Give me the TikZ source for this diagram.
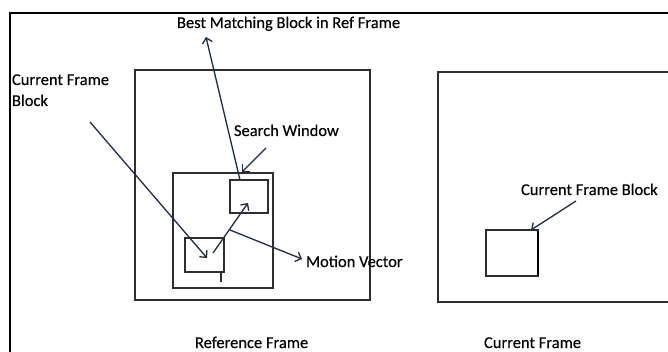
\documentclass[tikz,border=0pt]{standalone}
\usepackage{fontspec}
\setmainfont{Carlito}[UprightFeatures={FakeBold=0.3}]
\usetikzlibrary{arrows.meta}
\definecolor{arrowblue}{HTML}{1F2B45}
\definecolor{edgegray}{HTML}{2E2E2E}
\tikzset{
  x=1pt, y=-1pt,
  every node/.style={inner sep=0pt, outer sep=0pt},
  frame/.style={draw=edgegray, line width=1.3pt},
  label/.style={anchor=base west, font=\fontsize{16.5}{19}\selectfont, text=black},
  ptr/.style={draw=arrowblue, line width=1.3pt, -{Straight Barb[length=5pt,width=10pt]}},
}
\begin{document}
\begin{tikzpicture}
  \useasboundingbox (0,0) rectangle (668,352);
  \clip (0,0) rectangle (668,352);

  % page border (only top and left edges fall inside the picture)
  \draw[line width=2.6pt] (10,420) -- (10,13) -- (720,13);

  % reference frame and current frame
  \node[frame, minimum width=235pt, minimum height=230pt] (ref) at (252.5,185) {};
  \node[frame, minimum width=262pt, minimum height=230pt] (cur) at (569,187) {};

  % search window and blocks inside the reference frame
  \node[frame, minimum width=100pt, minimum height=115pt] (win) at (223,230.5) {};
  \node[frame, minimum width=38pt, minimum height=33pt] (best) at (249,196.5) {};
  \node[frame, minimum width=39pt, minimum height=34pt] (blk) at (204.5,255) {};
  \coordinate (tickA) at (221,272);
  \coordinate (tickB) at (221,282);
  \draw[draw=edgegray, line width=1.2pt] (tickA) -- (tickB);

  % block in the current frame
  \node[frame, minimum width=52pt, minimum height=46pt] (cblk) at (512,253) {};
  \draw[line width=2pt] (cblk.north east) -- (cblk.south east);

  % labels
  \node[label] (lbest) at (177,28) {Best Matching Block in Ref Frame};
  \node[label] (lcur1) at (12,85) {Current Frame};
  \node[label] (lcur2) at (12,106) {Block};
  \node[label] (lwin) at (234,136) {Search Window};
  \node[label] (lmv) at (306,267) {Motion Vector};
  \node[label] (lcblk) at (521,195) {Current Frame Block};
  \node[label] (lref) at (195,348) {Reference Frame};
  \node[label] (lcurf) at (484,348) {Current Frame};

  % arrow end points
  \coordinate (bestTail) at (240,180);
  \coordinate (bestTip) at (206,37);
  \coordinate (winTail) at (266,148);
  \coordinate (winTip) at (242,172);
  \coordinate (blkTail) at (90,122);
  \coordinate (blkTip) at (207,258);
  \coordinate (mvTail) at (213,253);
  \coordinate (mvTip) at (248,203);
  \coordinate (mvlTail) at (230,230);
  \coordinate (mvlTip) at (302,259);
  \coordinate (cblkTail) at (576,201);
  \coordinate (cblkTip) at (531,230);

  % connectors
  \draw[ptr] (bestTail) -- (bestTip);
  \draw[ptr] (winTail) -- (winTip);
  \draw[ptr] (blkTail) -- (blkTip);
  \draw[ptr] (mvTail) -- (mvTip);
  \draw[ptr] (mvlTail) -- (mvlTip);
  \draw[ptr] (cblkTail) -- (cblkTip);
\end{tikzpicture}
\end{document}
